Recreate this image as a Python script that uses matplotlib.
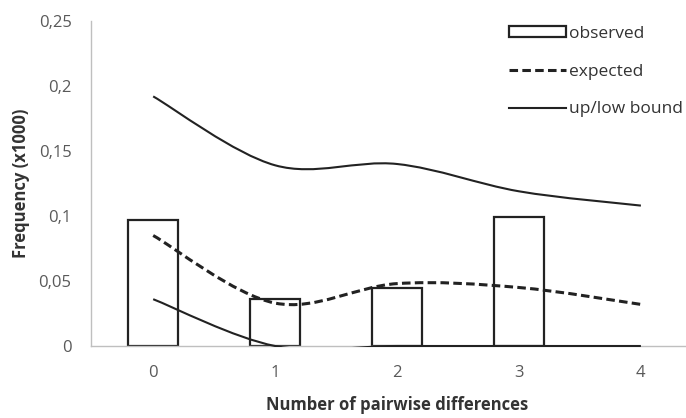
import numpy as np
import matplotlib
matplotlib.use("Agg")
import matplotlib.pyplot as plt
from matplotlib.path import Path
from matplotlib.patches import PathPatch, Patch, Rectangle
from matplotlib.lines import Line2D

plt.rcParams['font.family'] = ['Open Sans', 'DejaVu Sans']

# data (frequency x1000)
differences = [0, 1, 2, 3, 4]
observed = [0.097, 0.036, 0.0446, 0.099]
expected = [0.085, 0.033, 0.048, 0.045, 0.032]
upper_bound = [0.192, 0.139, 0.140, 0.119, 0.108]
lower_bound = [0.036, 0.0, 0.0, 0.0, 0.0]
ytick_labels = ['0', '0,05', '0,1', '0,15', '0,2', '0,25']


def smooth_path(x, y):
    # Excel-like smoothed line: cubic bezier through every point
    p = np.column_stack([x, y]).astype(float)
    ext = np.vstack([p[0], p, p[-1]])
    verts = [p[0]]
    codes = [Path.MOVETO]
    for i in range(len(p) - 1):
        c1 = ext[i + 1] + (ext[i + 2] - ext[i]) / 6
        c2 = ext[i + 2] - (ext[i + 3] - ext[i + 1]) / 6
        verts += [c1, c2, ext[i + 2]]
        codes += [Path.CURVE4] * 3
    return Path(verts, codes)


fig = plt.figure(figsize=(6.86, 4.18), dpi=100)
ax = fig.add_axes([91 / 686, 1 - 346 / 418, 1 - 91 / 686, (346 - 21) / 418])

ax.bar(differences[:len(observed)], observed, width=0.41, facecolor='white',
       edgecolor='#222222', linewidth=1.6, zorder=2)

ax.add_patch(PathPatch(smooth_path(differences, upper_bound), fill=False,
                       edgecolor='#222222', linewidth=1.5, zorder=3))
low = ax.add_patch(PathPatch(smooth_path(differences, lower_bound), fill=False,
                             edgecolor='#222222', linewidth=1.5, zorder=3))
# plot area clip that lets the line lying on zero show, like the original
low.set_clip_path(Rectangle((-0.51, -0.0006), 4.88, 0.2506, transform=ax.transData))
ax.add_patch(PathPatch(smooth_path(differences, expected), fill=False,
                       edgecolor='#222222', linewidth=2.2, linestyle=(0, (2.8, 1.4)),
                       zorder=3))

ax.set_xlim(-0.51, 4.37)
ax.set_ylim(0, 0.25)
ax.set_xticks(differences)
ax.set_yticks(np.linspace(0, 0.25, 6))
ax.set_yticklabels(ytick_labels)
ax.tick_params(length=0, labelsize=12, labelcolor='#595959')
ax.tick_params(axis='y', pad=14)
ax.tick_params(axis='x', pad=14)

for s in ['top', 'right']:
    ax.spines[s].set_visible(False)
for s in ['left', 'bottom']:
    ax.spines[s].set_color('#bfbfbf')
    ax.spines[s].set_linewidth(1.0)

ax.set_xlabel('Number of pairwise differences', fontsize=12, fontweight='bold',
              color='#333333')
ax.xaxis.set_label_coords(0.514, -0.155)
ax.set_ylabel('Frequency (x1000)', fontsize=12, fontweight='bold', color='#333333')
ax.yaxis.set_label_coords(-0.102, 0.5)

handles = [Patch(facecolor='white', edgecolor='#222222', linewidth=1.6),
           Line2D([], [], color='#222222', linewidth=2.2, linestyle=(0, (2.8, 1.4))),
           Line2D([], [], color='#222222', linewidth=1.5)]
leg = fig.legend(handles, ['observed', 'expected', 'up/low bound'],
                 loc='upper left', bbox_to_anchor=(509 / 686, 1 - 26 / 418),
                 frameon=False, fontsize=12.5, handlelength=3.3, handleheight=0.6,
                 handletextpad=0.15, labelspacing=1.25, borderpad=0,
                 borderaxespad=0)
for t in leg.get_texts():
    t.set_color('#333333')

fig.savefig('out.png', dpi=100)
